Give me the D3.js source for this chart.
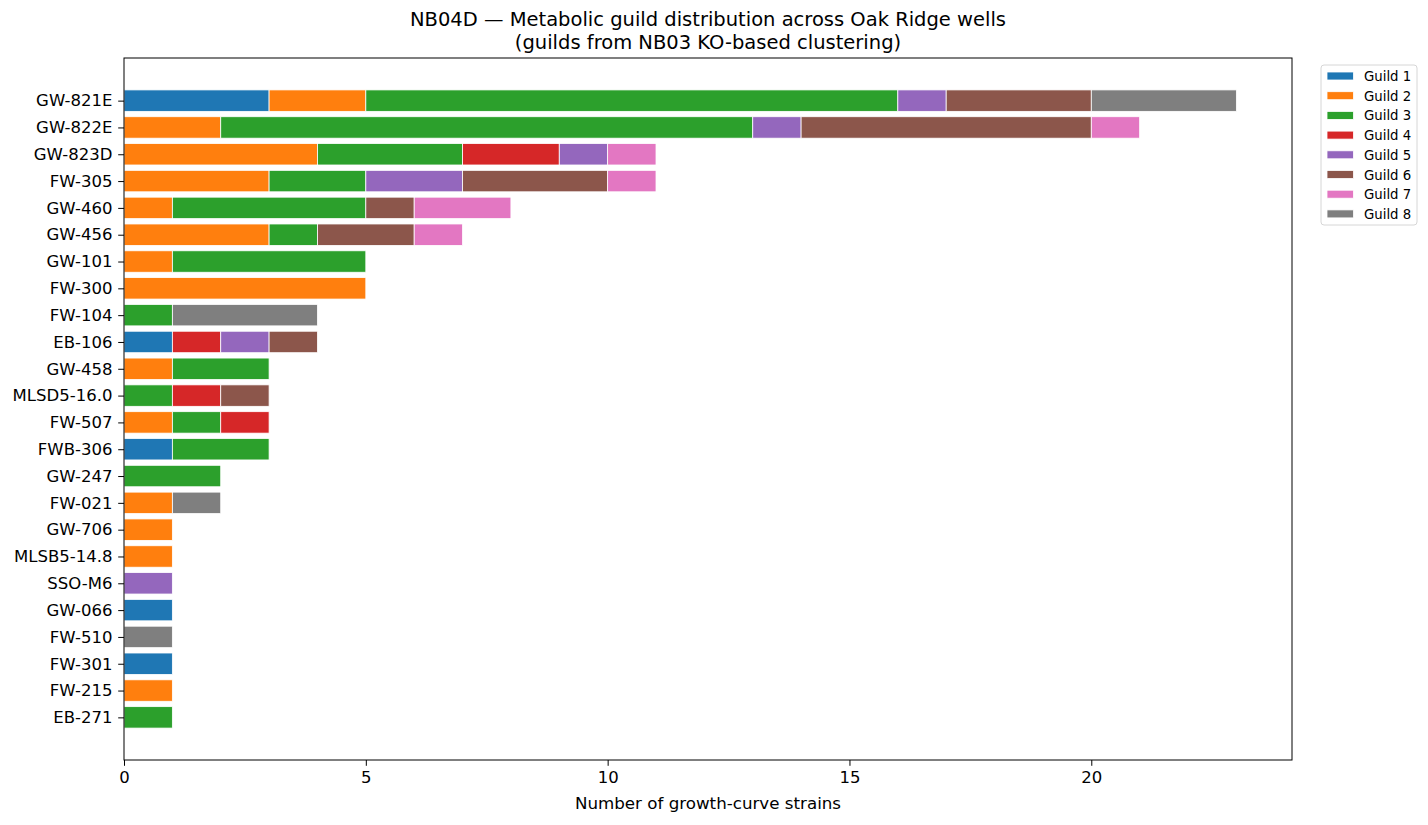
<!DOCTYPE html>
<html>
<head>
<meta charset="utf-8">
<script src="https://cdn.jsdelivr.net/npm/d3@7"></script>
<style>
  body { margin: 0; background: #fff; }
  text { font-family: "DejaVu Sans", sans-serif; fill: #000; }
</style>
</head>
<body>
<svg width="1428" height="825"></svg>
<script>
// wells, top to bottom
var wells = ["GW-821E", "GW-822E", "GW-823D", "FW-305", "GW-460", "GW-456", "GW-101", "FW-300",
    "FW-104", "EB-106", "GW-458", "MLSD5-16.0", "FW-507", "FWB-306", "GW-247", "FW-021",
    "GW-706", "MLSB5-14.8", "SSO-M6", "GW-066", "FW-510", "FW-301", "FW-215", "EB-271"];

var guilds = ["Guild 1", "Guild 2", "Guild 3", "Guild 4", "Guild 5", "Guild 6", "Guild 7", "Guild 8"];

// strain counts per guild, same order as wells
var guild1 = [3, 0, 0, 0, 0, 0, 0, 0, 0, 1, 0, 0, 0, 1, 0, 0, 0, 0, 0, 1, 0, 1, 0, 0];
var guild2 = [2, 2, 4, 3, 1, 3, 1, 5, 0, 0, 1, 0, 1, 0, 0, 1, 1, 1, 0, 0, 0, 0, 1, 0];
var guild3 = [11, 11, 3, 2, 4, 1, 4, 0, 1, 0, 2, 1, 1, 2, 2, 0, 0, 0, 0, 0, 0, 0, 0, 1];
var guild4 = [0, 0, 2, 0, 0, 0, 0, 0, 0, 1, 0, 1, 1, 0, 0, 0, 0, 0, 0, 0, 0, 0, 0, 0];
var guild5 = [1, 1, 1, 2, 0, 0, 0, 0, 0, 1, 0, 0, 0, 0, 0, 0, 0, 0, 1, 0, 0, 0, 0, 0];
var guild6 = [3, 6, 0, 3, 1, 2, 0, 0, 0, 1, 0, 1, 0, 0, 0, 0, 0, 0, 0, 0, 0, 0, 0, 0];
var guild7 = [0, 1, 1, 1, 2, 1, 0, 0, 0, 0, 0, 0, 0, 0, 0, 0, 0, 0, 0, 0, 0, 0, 0, 0];
var guild8 = [3, 0, 0, 0, 0, 0, 0, 0, 3, 0, 0, 0, 0, 0, 0, 1, 0, 0, 0, 0, 1, 0, 0, 0];

var counts = [guild1, guild2, guild3, guild4, guild5, guild6, guild7, guild8];
var colors = ["#1f77b4", "#ff7f0e", "#2ca02c", "#d62728", "#9467bd", "#8c564b", "#e377c2", "#7f7f7f"];

var svg = d3.select("svg");
var margin = {left: 124, right: 136, top: 58, bottom: 65};
var width = 1428 - margin.left - margin.right,
    height = 825 - margin.top - margin.bottom;

// build rows for d3.stack
var table = wells.map(function (w, i) {
    var row = {well: w};
    guilds.forEach(function (g, j) { row[g] = counts[j][i]; });
    return row;
});
var series = d3.stack().keys(guilds)(table);
var maxTotal = d3.max(series[series.length - 1], function (d) { return d[1]; });

var x = d3.scaleLinear().domain([0, maxTotal * 1.05]).range([0, width]);
// positions 0..n-1, bar height 0.8, 5% margins
var n = wells.length;
var lo = -0.4, hi = n - 1 + 0.4, pad = (hi - lo) * 0.05;
var y = d3.scaleLinear().domain([lo - pad, hi + pad]).range([0, height]);

var g = svg.append("g").attr("transform", "translate(" + margin.left + "," + margin.top + ")");

g.selectAll("g.layer")
    .data(series)
    .enter().append("g")
    .attr("class", "layer")
    .attr("fill", function (d, i) { return colors[i]; })
    .selectAll("rect")
    .data(function (d) { return d.filter(function (p) { return p[1] > p[0]; }); })
    .enter().append("rect")
    .attr("x", function (d) { return x(d[0]); })
    .attr("width", function (d) { return x(d[1]) - x(d[0]); })
    .attr("y", function (d) { return y(wells.indexOf(d.data.well) - 0.4); })
    .attr("height", y(0.4) - y(-0.4))
    .attr("stroke", "white")
    .attr("stroke-width", 0.8);

// axes
var xAxis = g.append("g")
    .attr("transform", "translate(0," + height + ")")
    .call(d3.axisBottom(x).tickValues([0, 5, 10, 15, 20]).tickSize(5.8).tickPadding(5.8));
var yAxis = g.append("g")
    .call(d3.axisLeft(y).tickValues(d3.range(n)).tickFormat(function (i) { return wells[i]; })
        .tickSize(5.8).tickPadding(5.8));
[xAxis, yAxis].forEach(function (a) {
    a.select(".domain").remove();
    a.selectAll("text").style("font-size", "16.5px").style("font-family", "DejaVu Sans");
    a.selectAll("line").attr("stroke", "#000").attr("stroke-width", 1);
});

g.append("rect")
    .attr("width", width).attr("height", height)
    .attr("fill", "none").attr("stroke", "#000").attr("stroke-width", 1);

// labels
svg.append("text")
    .attr("x", margin.left + width / 2).attr("y", 26)
    .attr("text-anchor", "middle").style("font-size", "19.5px")
    .text("NB04D — Metabolic guild distribution across Oak Ridge wells");
svg.append("text")
    .attr("x", margin.left + width / 2).attr("y", 49)
    .attr("text-anchor", "middle").style("font-size", "19.5px")
    .text("(guilds from NB03 KO-based clustering)");
svg.append("text")
    .attr("x", margin.left + width / 2).attr("y", 809)
    .attr("text-anchor", "middle").style("font-size", "16.7px")
    .text("Number of growth-curve strains");

// legend
var legend = svg.append("g").attr("transform", "translate(1321,65)");
legend.append("rect")
    .attr("width", 96).attr("height", 160).attr("rx", 3)
    .attr("fill", "white").attr("stroke", "#d6d6d6").attr("stroke-width", 1);
guilds.forEach(function (name, i) {
    var row = legend.append("g").attr("transform", "translate(0," + (11 + i * 19.7) + ")");
    row.append("rect")
        .attr("x", 6).attr("y", -4).attr("width", 26.5).attr("height", 8)
        .attr("fill", colors[i]).attr("stroke", "white").attr("stroke-width", 0.8);
    row.append("text")
        .attr("x", 43).attr("y", 5)
        .style("font-size", "13.3px")
        .text(name);
});
</script>
</body>
</html>
